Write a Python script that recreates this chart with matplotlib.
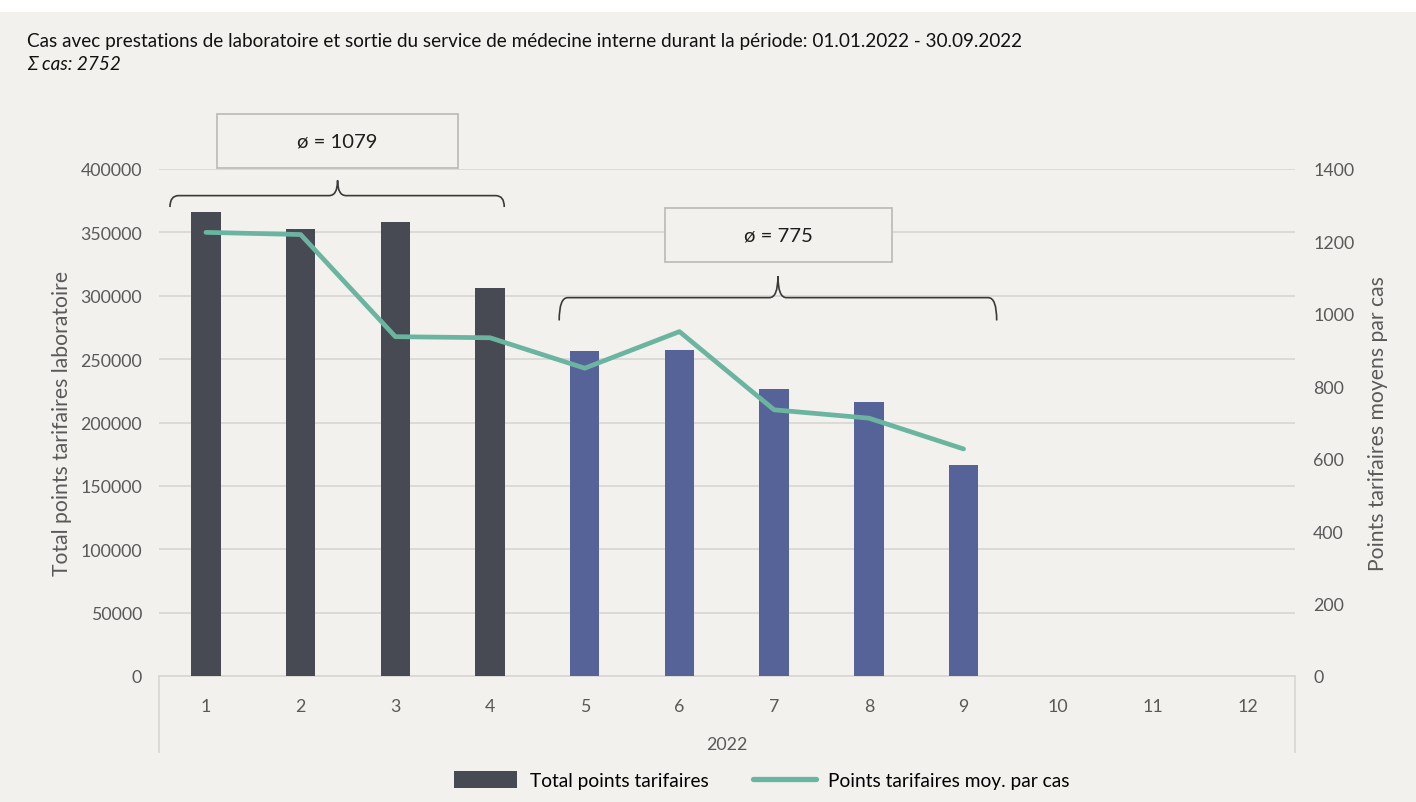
import matplotlib
matplotlib.use("Agg")
import matplotlib.pyplot as plt
from matplotlib.path import Path
from matplotlib.patches import PathPatch, Rectangle, Patch
from matplotlib.lines import Line2D

# ---- data ----
months = [1, 2, 3, 4, 5, 6, 7, 8, 9, 10, 11, 12]
month_labels = [str(m) for m in months]
bar_months = [1, 2, 3, 4, 5, 6, 7, 8, 9]
total_points = [366000, 353000, 358000, 306500, 256500, 257500, 226500, 216000, 166500]
avg_points = [1225, 1219, 937, 934, 850, 951, 735, 712, 627]
group_of_bar = [0, 0, 0, 0, 1, 1, 1, 1, 1]
group_avg_labels = ["ø = 1079", "ø = 775"]
year_label = "2022"
title = "Cas avec prestations de laboratoire et sortie du service de médecine interne durant la période: 01.01.2022 - 30.09.2022"
subtitle = "Σ cas: 2752"
left_label = "Total points tarifaires laboratoire"
right_label = "Points tarifaires moyens par cas"
legend_labels = ["Total points tarifaires", "Points tarifaires moy. par cas"]
left_ticks = [0, 50000, 100000, 150000, 200000, 250000, 300000, 350000, 400000]
right_ticks = [0, 200, 400, 600, 800, 1000, 1200, 1400]

# ---- style ----
BG = "#F2F1ED"
BAR_COLORS = ["#474A52", "#566399"]
LINE_COLOR = "#6BB5A0"
GRID = "#D9D8D4"
TICK_C = "#595959"
FONT = "Lato"

W, H = 1416, 803
fig = plt.figure(figsize=(W / 100, H / 100), dpi=100, facecolor=BG)
fig.patches.append(Rectangle((0, 1 - 13 / H), 1, 13 / H, transform=fig.transFigure,
                             facecolor="white", edgecolor="none", zorder=0))

ax = fig.add_axes([158.6 / W, (H - 677) / H, (1295 - 158.6) / W, (677 - 170) / H])
ax.set_facecolor(BG)
ax2 = ax.twinx()

bars = ax.bar(bar_months, total_points, width=0.31,
              color=[BAR_COLORS[g] for g in group_of_bar], zorder=3)
ax2.plot(bar_months, avg_points, color=LINE_COLOR, lw=3.4, zorder=4,
         solid_joinstyle="round", solid_capstyle="round")

ax.set_xlim(0.5, 12.5)
ax.set_ylim(0, 400000)
ax2.set_ylim(0, 1400)
ax.set_yticks(left_ticks)
ax.set_yticklabels([str(t) for t in left_ticks])
ax2.set_yticks(right_ticks)
ax2.set_yticklabels([str(t) for t in right_ticks])
ax.set_xticks(months)
ax.set_xticklabels(month_labels)

for a in (ax, ax2):
    for s in a.spines.values():
        s.set_visible(False)
    a.tick_params(length=0, colors=TICK_C, labelsize=12.8)
    for lab in a.get_yticklabels() + a.get_xticklabels():
        lab.set_fontfamily(FONT)
ax.tick_params(axis="y", pad=12)
ax2.tick_params(axis="y", pad=13)
ax.tick_params(axis="x", pad=16)
ax.spines["bottom"].set_visible(True)
ax.spines["bottom"].set_color(GRID)
ax.spines["bottom"].set_linewidth(1.3)
ax.set_axisbelow(True)
ax.yaxis.grid(True, color=GRID, lw=1.3)
ax2.set_zorder(ax.get_zorder() + 1)
ax2.patch.set_visible(False)

# category-axis frame lines below axis
for xa in (0, 1):
    ax.plot([xa, xa], [0, -76 / 507], transform=ax.transAxes, color=GRID, lw=1.3, clip_on=False)
ax.text(0.5, -68 / 507, year_label, transform=ax.transAxes, ha="center", va="center",
        color=TICK_C, fontsize=12.8, family=FONT)

ax.set_ylabel(left_label, family=FONT, fontsize=15.2, color=TICK_C, labelpad=6)
ax2.set_ylabel(right_label, family=FONT, fontsize=15.2, color=TICK_C, labelpad=10)

# braces and boxes
def brace(x0, x1, xm, y_end, y_h, y_tip, dx):
    verts = [(x0, y_end), (x0, y_h), (x0 + dx, y_h), (xm - dx, y_h), (xm, y_h), (xm, y_tip),
             (xm, y_tip), (xm, y_h), (xm + dx, y_h), (x1 - dx, y_h), (x1, y_h), (x1, y_end)]
    codes = [Path.MOVETO, Path.CURVE3, Path.CURVE3, Path.LINETO, Path.CURVE3, Path.CURVE3,
             Path.MOVETO, Path.CURVE3, Path.CURVE3, Path.LINETO, Path.CURVE3, Path.CURVE3]
    ax.add_patch(PathPatch(Path(verts, codes), facecolor="none", edgecolor="#3A3A3A",
                           lw=1.2, clip_on=False, zorder=5))

brace(0.62, 4.15, 2.39, 370000, 379000, 391000, 0.09)
brace(4.73, 9.35, 7.04, 280500, 298500, 315500, 0.09)

boxes = [(1.12, 3.66, 400800, 443400), (5.85, 8.24, 326600, 369200)]
for (bx0, bx1, by0, by1), lab in zip(boxes, group_avg_labels):
    ax.add_patch(Rectangle((bx0, by0), bx1 - bx0, by1 - by0, facecolor=BG, edgecolor="#BDBDBD",
                           lw=1.3, clip_on=False, zorder=6))
    ax.text((bx0 + bx1) / 2, (by0 + by1) / 2, lab, ha="center", va="center", fontsize=14.6,
            family=FONT, color="#1E1E1E", zorder=7, clip_on=False)

# titles
fig.text(27 / W, 1 - 42 / H, title, ha="left", va="center", fontsize=13.6, family=FONT, color="#111111")
fig.text(27 / W, 1 - 65 / H, subtitle, ha="left", va="center", fontsize=13.6, family=FONT,
         style="italic", color="#111111")

# legend
handles = [Patch(facecolor=BAR_COLORS[0], edgecolor="none"),
           Line2D([], [], color=LINE_COLOR, lw=3.8, solid_capstyle="round")]
fig.legend(handles, legend_labels, loc="center", bbox_to_anchor=(762 / W, 22 / H), ncol=2,
           frameon=False, prop={"family": FONT, "size": 13.8}, handlelength=3.3,
           handleheight=0.95, handletextpad=0.65, columnspacing=2.3)

fig.savefig("out.png", dpi=100, facecolor=BG)
